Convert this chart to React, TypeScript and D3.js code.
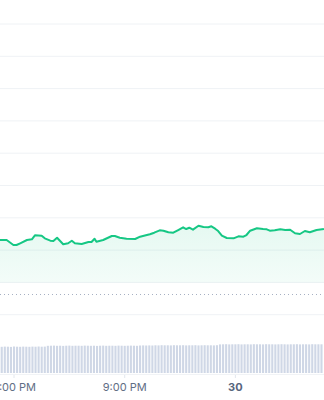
import React from "react";
import * as d3 from "d3";

// Minutes relative to 6:00 PM on the 29th
const priceMinutes = [-23, -12, -1, 4, 10, 21, 29, 34, 45, 50, 59, 64, 70, 75, 80, 88, 94, 99, 110, 121, 126, 131, 134, 145, 159, 164, 172, 183, 197, 205, 216, 221, 228, 237, 243, 251, 259, 267, 275, 280, 285, 291, 300, 308, 316, 321, 327, 332, 338, 346, 357, 365, 373, 378, 384, 395, 405, 411, 416, 424, 433, 441, 449, 457, 465, 473, 481, 492, 504];
const priceValues = [62.313, 62.313, 62.158, 62.158, 62.211, 62.313, 62.334, 62.458, 62.446, 62.365, 62.291, 62.282, 62.384, 62.282, 62.18, 62.211, 62.291, 62.211, 62.189, 62.251, 62.251, 62.353, 62.26, 62.313, 62.437, 62.437, 62.384, 62.353, 62.344, 62.415, 62.467, 62.489, 62.539, 62.613, 62.601, 62.551, 62.539, 62.622, 62.706, 62.653, 62.693, 62.632, 62.755, 62.715, 62.706, 62.737, 62.663, 62.591, 62.446, 62.375, 62.365, 62.427, 62.415, 62.467, 62.601, 62.675, 62.653, 62.644, 62.601, 62.613, 62.644, 62.622, 62.632, 62.52, 62.498, 62.591, 62.551, 62.622, 62.653];

const previousClose = 60.625;
const gridValues = [60, 61, 62, 63, 64, 65, 66, 67, 68, 69];

// 5-minute volume bars starting at 5:40 PM
const volumeStartMinute = -20;
const volumeValues = [
  26.2, 26.4, 26.3, 26.1, 26.5, 26.3, 26.2, 26.4, 26.3, 26.2, 26.4, 26.3, 26.5, 26.3, 26.4,
  27.2, 27.3, 27.4, 27.2, 27.3, 27.1, 27.3, 27.4, 27.2, 27.3, 27.3, 27.2, 27.4, 27.3, 27.2, 27.3, 27.1, 27.3, 27.4, 27.2, 27.3, 27.3, 27.2, 27.4, 27.3, 27.2, 27.3, 27.4, 27.3, 27.2, 27.5, 27.6, 27.5, 27.6, 27.5,
  27.7, 27.6, 27.8, 27.7, 27.7, 27.6, 27.8, 27.7, 27.7, 27.8, 27.6, 27.7, 27.7, 27.8, 27.6, 27.7, 27.8, 27.7, 27.7, 27.6, 27.8,
  28.6, 28.7, 28.8, 28.6, 28.7, 28.7, 28.8, 28.6, 28.7, 28.7, 28.6, 28.8, 28.7, 28.7, 28.6, 28.8, 28.7, 28.7, 28.6, 28.7, 28.8, 28.7, 28.6, 28.7, 28.7, 28.8, 28.6, 28.7, 28.7, 28.6, 28.8, 28.7, 28.7, 28.7,
];

const tickMinutes = [0, 180, 360];
const tickLabels = ["6:00 PM", "9:00 PM", "30"];

const base = new Date(2024, 0, 29, 18, 0, 0).getTime();
const toDate = (m: number) => new Date(base + m * 60000);

export default function App() {
  const W = 324;
  const H = 400;
  const x = d3.scaleTime().domain([toDate(-22.8), toDate(504.1)]).range([0, W]);
  const y = d3.scaleLinear().domain([60, 69]).range([314.7, 24]);
  const vy = d3.scaleLinear().domain([0, 30]).range([373, 343]);

  const pts = priceMinutes.map((m, i) => ({ t: toDate(m), v: priceValues[i] }));
  const line = d3.line<{ t: Date; v: number }>().x((d) => x(d.t)).y((d) => y(d.v));
  const area = d3
    .area<{ t: Date; v: number }>()
    .x((d) => x(d.t))
    .y0(y(61))
    .y1((d) => y(d.v));

  const barW = 2.1;

  return (
    <svg
      width={W}
      height={H}
      style={{ position: "absolute", left: 0, top: 0, display: "block", background: "#fff" }}
      fontFamily="Inter, 'Noto Sans', sans-serif"
    >
      <defs>
        <linearGradient id="areaGrad" x1="0" y1="0" x2="0" y2="1">
          <stop offset="0%" stopColor="#16c784" stopOpacity={0.11} />
          <stop offset="100%" stopColor="#16c784" stopOpacity={0.05} />
        </linearGradient>
      </defs>
      {gridValues.map((g) => (
        <line key={g} x1={0} x2={W} y1={y(g)} y2={y(g)} stroke="#eff2f5" strokeWidth={1} />
      ))}
      <path d={area(pts) || ""} fill="url(#areaGrad)" />
      <line
        x1={0}
        x2={W}
        y1={y(previousClose)}
        y2={y(previousClose)}
        stroke="#a6b0c3"
        strokeWidth={1}
        strokeDasharray="1 3"
      />
      <path d={line(pts) || ""} fill="none" stroke="#16c784" strokeWidth={2} strokeLinejoin="round" />
      {volumeValues.map((v, i) => {
        const cx = x(toDate(volumeStartMinute + i * 5));
        return (
          <rect
            key={i}
            x={cx - barW / 2}
            y={vy(v)}
            width={barW}
            height={vy(0) - vy(v)}
            fill="#cfd7e6"
          />
        );
      })}
      <line x1={0} x2={W} y1={374.5} y2={374.5} stroke="#f1f3f6" strokeWidth={1} />
      {tickMinutes.map((m, i) => {
        const tx = x(toDate(m));
        return (
          <g key={m}>
            <line x1={tx} x2={tx} y1={375} y2={378} stroke="#e3e7ee" strokeWidth={1} />
            <text
              x={tx}
              y={391}
              textAnchor="middle"
              fontSize={11}
              fontWeight={i === 2 ? 700 : 400}
              fill={i === 2 ? "#58667e" : "#616e85"}
            >
              {tickLabels[i]}
            </text>
          </g>
        );
      })}
    </svg>
  );
}
